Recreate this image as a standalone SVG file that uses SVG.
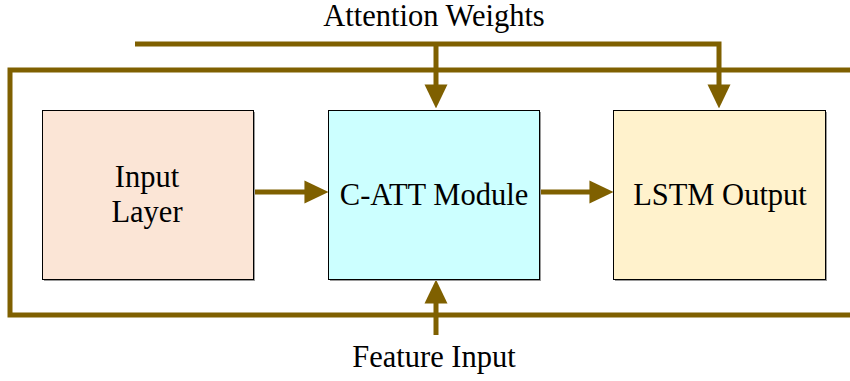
<svg xmlns="http://www.w3.org/2000/svg" width="850" height="381" viewBox="0 0 850 381">
<style>
.ln{fill:none;stroke:#7F6000;stroke-width:5}
.box{stroke:#000;stroke-width:1}
.sh{fill:#9a9a9a}
.t{font-family:"Liberation Serif","Times New Roman",serif;font-size:30.5px;fill:#000;text-anchor:middle}
</style>
<defs>
<marker id="ah" markerUnits="userSpaceOnUse" markerWidth="24" markerHeight="24" viewBox="0 0 23 22" refX="13" refY="11" orient="auto">
<path d="M0,0 L23,11 L0,22 z" fill="#7F6000"/>
</marker>
</defs>
<g id="connectors">
<path class="ln" d="M850,70 H10 V315 H850"/>
<path class="ln" d="M135,44 H719 V98" marker-end="url(#ah)"/>
<path class="ln" d="M436,44 V98" marker-end="url(#ah)"/>
<path class="ln" d="M252,192 H318" marker-end="url(#ah)"/>
<path class="ln" d="M539,192 H603" marker-end="url(#ah)"/>
<path class="ln" d="M436,335 V290" marker-end="url(#ah)"/>
</g>
<g id="input-layer">
<rect class="sh" x="44" y="112" width="211" height="169"/>
<rect class="box" x="42.5" y="110.5" width="211" height="169" fill="#FBE5D6"/>
<text class="t" x="147" y="187">Input</text>
<text class="t" x="147" y="222">Layer</text>
</g>
<g id="c-att-module">
<rect class="sh" x="330" y="112" width="211" height="169"/>
<rect class="box" x="328.5" y="110.5" width="211" height="169" fill="#CCFFFF"/>
<text class="t" x="434" y="205">C-ATT Module</text>
</g>
<g id="lstm-output">
<rect class="sh" x="615" y="112" width="212" height="169"/>
<rect class="box" x="613.5" y="110.5" width="212" height="169" fill="#FFF2CC"/>
<text class="t" x="720" y="205">LSTM Output</text>
</g>
<g id="labels">
<text class="t" x="434" y="26">Attention Weights</text>
<text class="t" x="434" y="367">Feature Input</text>
</g>
</svg>
